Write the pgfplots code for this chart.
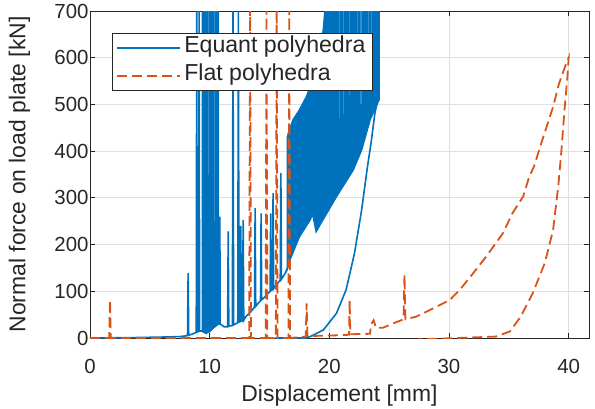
\documentclass[border=0pt]{standalone}
\usepackage{fontspec}
\setmainfont{Liberation Sans}
\usepackage{pgfplots}
\pgfplotsset{compat=1.18}
\definecolor{mblue}{RGB}{0,114,189}
\definecolor{mbluelight}{RGB}{50,140,208}
\definecolor{morange}{RGB}{217,83,25}
\definecolor{axisgray}{RGB}{38,38,38}
\definecolor{gridgray}{RGB}{223,223,223}
\begin{document}
\begin{tikzpicture}
\useasboundingbox (-90bp,-71bp) rectangle (505bp,338bp);
\begin{axis}[
  at={(0bp,0bp)}, anchor=south west,
  scale only axis, width=499bp, height=327bp,
  xmin=0, xmax=41.7, ymin=0, ymax=700,
  xtick={0,10,20,30,40}, ytick={0,100,...,700},
  grid=major, major grid style={draw=gridgray, line width=0.8bp},
  axis line style={draw=axisgray, line width=0.9bp},
  tick style={draw=axisgray, line width=0.9bp},
  tick align=inside, major tick length=5bp,
  /pgf/number format/assume math mode=true,
  ticklabel style={font=\fontsize{20.5}{24}\selectfont, text=axisgray},
  xticklabel style={yshift=-18bp},
  yticklabel style={xshift=2bp},
  xlabel={Displacement [mm]},
  ylabel={Normal force on load plate [kN]},
  label style={font=\fontsize{23}{26}\selectfont, text=axisgray},
  xlabel style={at={(axis description cs:0.5,-0.1774)}, anchor=center},
  ylabel style={at={(axis description cs:-0.1413,0.5)}, anchor=center},
  legend style={at={(axis description cs:0.0441,0.9327)}, anchor=north west,
    draw=axisgray, line width=0.9bp, fill=white,
    font=\fontsize{23.2}{26}\selectfont, text=axisgray,
    inner xsep=4bp, inner ysep=0.5bp, row sep=0bp,
    nodes={inner sep=3bp, text height=16bp, text depth=6bp}},
  legend cell align=left,
  legend image code/.code={\draw[#1] (0bp,0bp) -- (63bp,0bp);},
]
% ---------------- Equant polyhedra (blue) ----------------
\addplot[mblue, line width=1.6bp] coordinates {
(0,0) (2,0.5) (4,1) (6,2) (7.5,3) (8.15,5) (8.2,139) (8.25,6) (8.6,9)
(8.88,12) (8.92,720) (8.96,13) (9.08,14) (9.12,720) (9.16,15) (9.45,15)
(10.0,15) (10.7,30) (10.82,30) (10.85,260) (10.88,30) (11.2,24) (11.5,24)
(11.55,228) (11.6,25) (11.9,27) (11.95,720) (12.0,28) (12.35,33) (12.4,720)
(12.45,34) (12.55,35) (12.6,240) (12.65,36) (12.75,37) (12.8,253) (12.85,38)
(13.0,45) (13.5,58) (13.75,66) (13.8,278) (13.85,68) (14.25,80) (14.3,267)
(14.35,82) (14.5,85) (15.05,100) (15.1,267) (15.15,102) (15.25,104) (15.3,310)
(15.35,106) (15.5,112) (15.9,124) (15.95,353) (16.0,126) (16.3,138) (16.5,150)
};
\addlegendentry{Equant polyhedra}
\addplot[mblue, fill=mblue, line width=1.6bp, forget plot] coordinates {
(9.4,14) (9.7,10) (10.0,14) (10.3,22) (10.6,28) (10.72,30) (10.72,720) (9.4,720)
} -- cycle;
\addplot[mblue, fill=mblue, line width=1.6bp, forget plot] coordinates {
(16.5,150) (16.7,167) (17.5,217) (18.4,253) (18.6,267) (18.9,228) (19.3,246)
(20.6,303) (22.0,360) (22.7,403) (23.4,467) (24.15,510) (24.15,720) (19.7,720)
(19.5,660) (19.2,617) (18.6,560) (18.4,538) (18.1,517) (17.5,488) (16.97,467)
(16.6,440) (16.5,430)
} -- cycle;
\addplot[mblue, line width=1.6bp, forget plot] coordinates {
(15.5,0) (18.0,0) (18.4,3) (19.5,17) (20.6,53) (21.4,103) (22.1,181)
(22.7,274) (23.15,360) (23.5,420) (23.8,480) (24.05,510)
};
\addplot[mbluelight, line width=1.1bp, forget plot] coordinates {(20.85,720) (20.85,470)};
\addplot[mbluelight, line width=1.1bp, forget plot] coordinates {(21.2,720) (21.2,480)};
\addplot[mbluelight, line width=1.1bp, forget plot] coordinates {(21.7,720) (21.7,520)};
\addplot[mbluelight, line width=1.1bp, forget plot] coordinates {(22.35,720) (22.35,560)};
\addplot[mbluelight, line width=1.1bp, forget plot] coordinates {(22.65,720) (22.65,500)};
\addplot[mbluelight, line width=1.1bp, forget plot] coordinates {(23.25,720) (23.25,540)};
\addplot[mbluelight, line width=1.1bp, forget plot] coordinates {(23.5,720) (23.5,600)};
\addplot[mbluelight, line width=1.1bp, forget plot] coordinates {(9.9,720) (9.9,350)};
\addplot[mbluelight, line width=1.1bp, forget plot] coordinates {(10.4,720) (10.4,250)};
% ---------------- Flat polyhedra (orange) ----------------
\addplot[morange, line width=1.8bp, dash pattern=on 10bp off 5bp] coordinates {
(0,0) (1.6,0) (1.67,81) (1.74,0) (5,0) (10,0) (13.3,0) (13.38,720) (13.45,0)
(14.68,0) (14.75,720) (14.82,0) (15.53,0) (15.6,720) (15.67,0) (16.58,0)
(16.65,720) (16.72,0) (18.03,3) (18.1,74) (18.17,4) (21.0,6) (21.65,7)
(21.7,81) (21.75,8) (23.4,9) (23.5,30) (23.7,38) (23.9,22) (24.5,22)
(25.5,33) (26.2,40) (26.28,135) (26.36,40) (27.3,46) (28.4,60) (30.05,81)
(30.9,103) (32.0,138) (33.1,174) (34.5,224) (35.3,267) (36.2,303) (36.7,345)
(37.1,367) (37.8,424) (38.7,495) (39.2,545) (39.8,588) (40.0,600) (39.9,560)
(39.65,488) (39.4,403) (39.15,330) (38.7,231) (38.0,160) (37.0,96) (36.0,46)
(35.1,14) (33.9,3) (27.4,-3)
};
\addlegendentry{Flat polyhedra}
\end{axis}
\end{tikzpicture}
\end{document}
